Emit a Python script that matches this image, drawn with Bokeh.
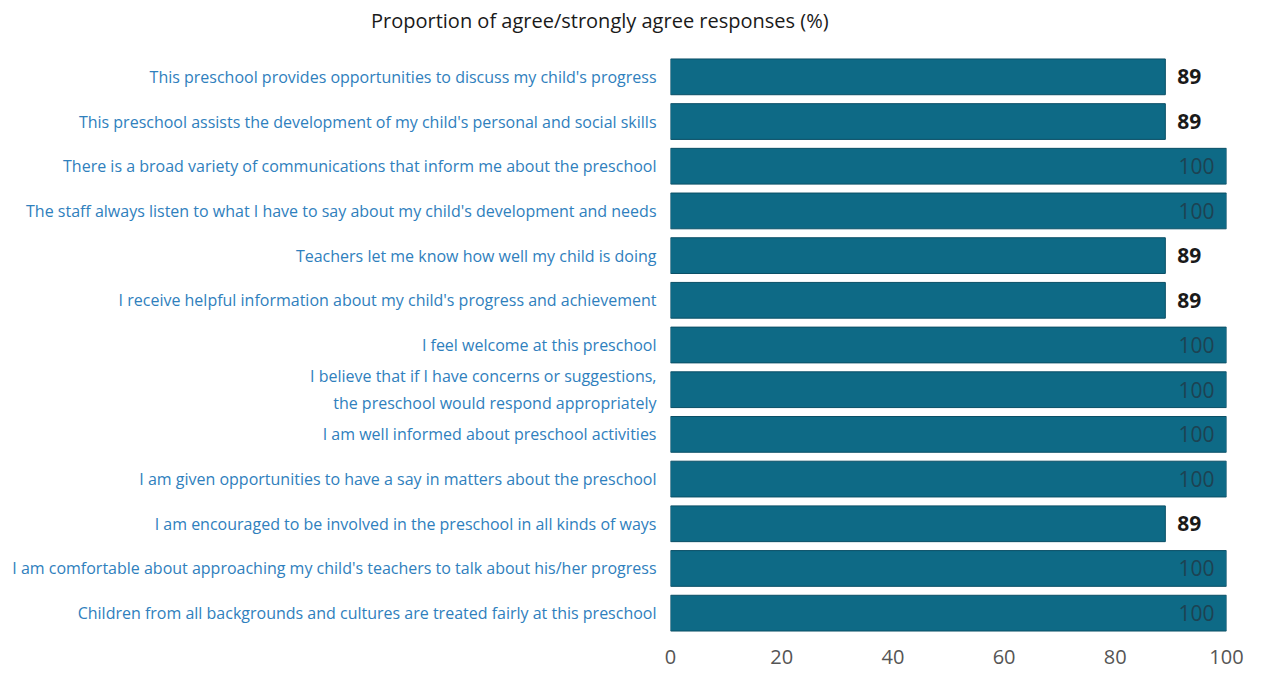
from bokeh.plotting import figure
from bokeh.models import Range1d, FactorRange, ColumnDataSource, Div
from bokeh.layouts import column
from bokeh.embed import file_html
from bokeh.resources import INLINE
from bokeh.core.properties import value

title_text = "Proportion of agree/strongly agree responses (%)"

categories = [
    "This preschool provides opportunities to discuss my child's progress",
    "This preschool assists the development of my child's personal and social skills",
    "There is a broad variety of communications that inform me about the preschool",
    "The staff always listen to what I have to say about my child's development and needs",
    "Teachers let me know how well my child is doing",
    "I receive helpful information about my child's progress and achievement",
    "I feel welcome at this preschool",
    "I believe that if I have concerns or suggestions,\nthe preschool would respond appropriately",
    "I am well informed about preschool activities",
    "I am given opportunities to have a say in matters about the preschool",
    "I am encouraged to be involved in the preschool in all kinds of ways",
    "I am comfortable about approaching my child's teachers to talk about his/her progress",
    "Children from all backgrounds and cultures are treated fairly at this preschool",
]
values = [89, 89, 100, 100, 89, 89, 100, 100, 100, 100, 89, 100, 100]
x_ticks = [0, 20, 40, 60, 80, 100]

FONT = "Open Sans"
BAR = "#0e6a86"

title_div = Div(text=title_text, width=1253, height=40, margin=0,
                styles={"font-family": FONT, "font-size": "20px", "color": "#1a1a1a",
                        "padding-left": "371px", "padding-top": "7px",
                        "box-sizing": "border-box", "line-height": "27px"})

p = figure(width=1253, height=634, output_backend="svg", toolbar_location=None,
           x_range=Range1d(0, 100), y_range=FactorRange(factors=categories[::-1], range_padding=0),
           min_border_left=670, min_border_right=27, min_border_top=14, min_border_bottom=39)
p.outline_line_color = None
p.background_fill_color = "white"
p.border_fill_color = "white"

src = ColumnDataSource(dict(cat=categories, val=values))
p.hbar(y="cat", right="val", left=0, height=0.8, source=src,
       fill_color=BAR, line_color="#0a4f66", line_width=1)

out_cat = [c for c, v in zip(categories, values) if v < 100]
out_val = [v for v in values if v < 100]
in_cat = [c for c, v in zip(categories, values) if v >= 100]
in_val = [v for v in values if v >= 100]

p.text(x=out_val, y=out_cat, text=[str(v) for v in out_val], x_offset=12,
       text_align="left", text_baseline="middle", text_font=value(FONT),
       text_font_size="21px", text_color="#1a1a1a", text_font_style="bold")
p.text(x=in_val, y=in_cat, text=[str(v) for v in in_val], x_offset=-12,
       text_align="right", text_baseline="middle", text_font=value(FONT),
       text_font_size="21px", text_color="#1d4252")

p.xgrid.visible = False
p.ygrid.visible = False

xa = p.xaxis[0]
xa.ticker = x_ticks
xa.axis_line_color = None
xa.major_tick_line_color = None
xa.minor_tick_line_color = None
xa.major_label_text_font = FONT
xa.major_label_text_font_size = "20px"
xa.major_label_text_color = "#555555"
xa.major_label_standoff = 8

ya = p.yaxis[0]
ya.axis_line_color = None
ya.major_tick_line_color = None
ya.major_tick_out = 0
ya.major_label_text_font = FONT
ya.major_label_text_font_size = "16px"
ya.major_label_text_color = "#2f80bd"
ya.major_label_standoff = 14

layout = column(title_div, p, spacing=0)

open("out.html", "w").write(file_html(layout, INLINE))
